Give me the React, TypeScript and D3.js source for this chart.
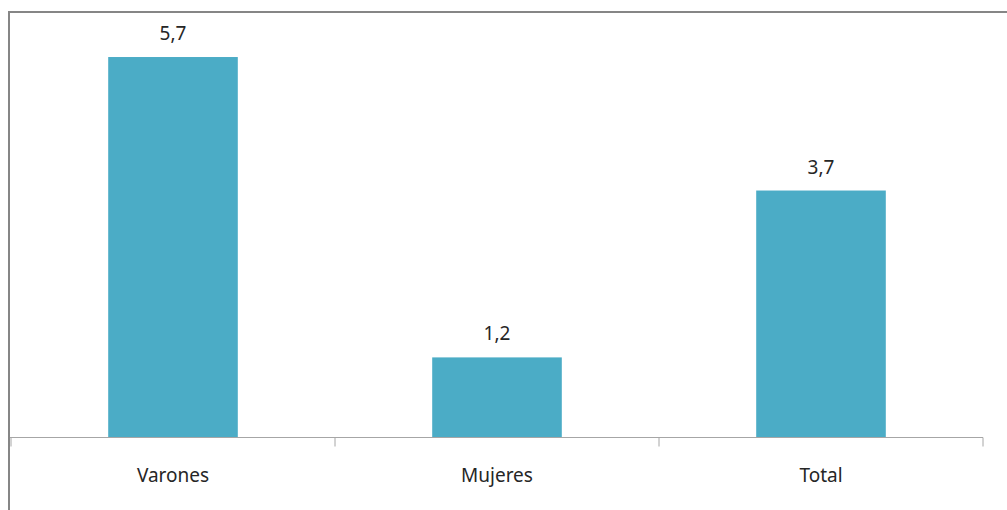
import React from "react";
import * as d3 from "d3";

const categories = ["Varones", "Mujeres", "Total"];
const values = [5.7, 1.2, 3.7];
const valueLabels = ["5,7", "1,2", "3,7"];

const W = 1007;
const H = 510;
const plotLeft = 11;
const plotRight = 983;
const plotTop = 37;
const plotBottom = 437.5;

export default function App() {
  const x = d3
    .scaleBand<string>()
    .domain(categories)
    .range([plotLeft, plotRight])
    .paddingInner(0.6)
    .paddingOuter(0.3);
  const y = d3.scaleLinear().domain([0, 6]).range([plotBottom, plotTop]);
  const step = x.step();
  const bounds = categories.map((c) => (x(c) as number) - (step * 0.6) / 2);
  bounds.push(plotRight);
  const font = "'Noto Sans', 'Open Sans', sans-serif";
  return (
    <svg
      width={W}
      height={H}
      style={{ position: "absolute", left: 0, top: 0, background: "#fff" }}
    >
      <rect x={9} y={12} width={1100} height={600} fill="#fff" stroke="#868686" strokeWidth={2} />
      {categories.map((c, i) => (
        <rect
          key={c}
          x={x(c)}
          y={y(values[i])}
          width={x.bandwidth()}
          height={plotBottom - y(values[i])}
          fill="#4BACC6"
        />
      ))}
      <line x1={plotLeft - 1} x2={plotRight} y1={plotBottom} y2={plotBottom} stroke="#a6a6a6" strokeWidth={1} />
      {bounds.map((b, i) => (
        <line key={i} x1={b} x2={b} y1={plotBottom} y2={plotBottom + 9} stroke="#a6a6a6" strokeWidth={1} />
      ))}
      {categories.map((c, i) => (
        <text
          key={"v" + c}
          x={(x(c) as number) + x.bandwidth() / 2}
          y={y(values[i]) - 17}
          textAnchor="middle"
          fontFamily={font}
          fontSize={19}
          fill="#262626"
        >
          {valueLabels[i]}
        </text>
      ))}
      {categories.map((c) => (
        <text
          key={"c" + c}
          x={(x(c) as number) + x.bandwidth() / 2}
          y={482}
          textAnchor="middle"
          fontFamily={font}
          fontSize={19}
          fill="#262626"
        >
          {c}
        </text>
      ))}
    </svg>
  );
}
